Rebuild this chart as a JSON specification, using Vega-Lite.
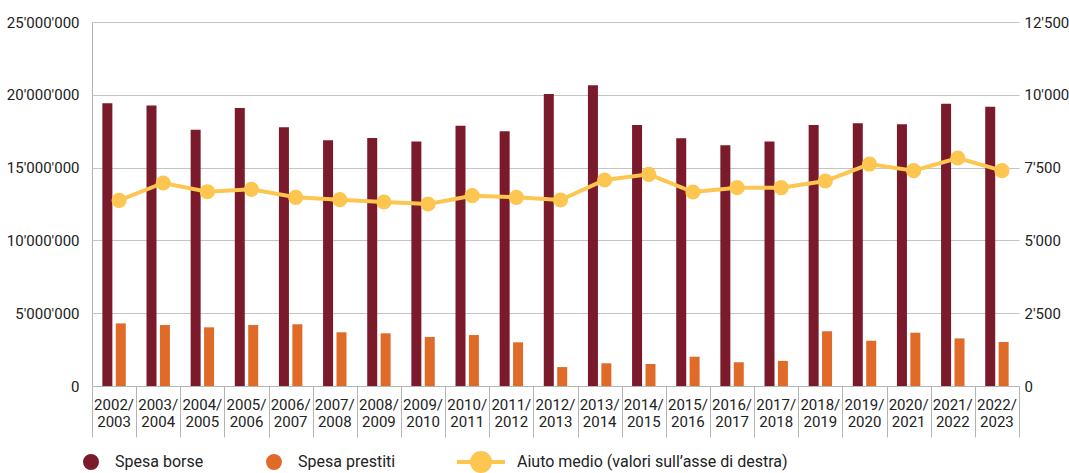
{
  "$schema": "https://vega.github.io/schema/vega-lite/v6.json",
  "width": 927,
  "height": 364,
  "autosize": {"type": "none"},
  "padding": {"left": 92, "top": 22, "right": 50, "bottom": 87},
  "background": "#ffffff",
  "config": {
    "locale": {"number": {"decimal": ".", "thousands": "'", "grouping": [3], "currency": ["", ""]}},
    "font": "Roboto",
    "view": {"stroke": null},
    "axis": {"labelFont": "Roboto", "labelFontSize": 15, "labelColor": "#222222", "titleColor": "#222222"},
    "legend": {"labelFont": "Roboto", "labelFontSize": 16, "labelColor": "#222222"}
  },
  "datasets": {
    "spesa": [
      {"anno": "2002/2003", "serie": "Spesa borse", "valore": 19420000},
      {"anno": "2002/2003", "serie": "Spesa prestiti", "valore": 4300000},
      {"anno": "2003/2004", "serie": "Spesa borse", "valore": 19270000},
      {"anno": "2003/2004", "serie": "Spesa prestiti", "valore": 4190000},
      {"anno": "2004/2005", "serie": "Spesa borse", "valore": 17600000},
      {"anno": "2004/2005", "serie": "Spesa prestiti", "valore": 4030000},
      {"anno": "2005/2006", "serie": "Spesa borse", "valore": 19090000},
      {"anno": "2005/2006", "serie": "Spesa prestiti", "valore": 4190000},
      {"anno": "2006/2007", "serie": "Spesa borse", "valore": 17770000},
      {"anno": "2006/2007", "serie": "Spesa prestiti", "valore": 4240000},
      {"anno": "2007/2008", "serie": "Spesa borse", "valore": 16870000},
      {"anno": "2007/2008", "serie": "Spesa prestiti", "valore": 3690000},
      {"anno": "2008/2009", "serie": "Spesa borse", "valore": 17030000},
      {"anno": "2008/2009", "serie": "Spesa prestiti", "valore": 3620000},
      {"anno": "2009/2010", "serie": "Spesa borse", "valore": 16800000},
      {"anno": "2009/2010", "serie": "Spesa prestiti", "valore": 3370000},
      {"anno": "2010/2011", "serie": "Spesa borse", "valore": 17880000},
      {"anno": "2010/2011", "serie": "Spesa prestiti", "valore": 3500000},
      {"anno": "2011/2012", "serie": "Spesa borse", "valore": 17490000},
      {"anno": "2011/2012", "serie": "Spesa prestiti", "valore": 3000000},
      {"anno": "2012/2013", "serie": "Spesa borse", "valore": 20050000},
      {"anno": "2012/2013", "serie": "Spesa prestiti", "valore": 1300000},
      {"anno": "2013/2014", "serie": "Spesa borse", "valore": 20650000},
      {"anno": "2013/2014", "serie": "Spesa prestiti", "valore": 1560000},
      {"anno": "2014/2015", "serie": "Spesa borse", "valore": 17930000},
      {"anno": "2014/2015", "serie": "Spesa prestiti", "valore": 1510000},
      {"anno": "2015/2016", "serie": "Spesa borse", "valore": 17010000},
      {"anno": "2015/2016", "serie": "Spesa prestiti", "valore": 2010000},
      {"anno": "2016/2017", "serie": "Spesa borse", "valore": 16530000},
      {"anno": "2016/2017", "serie": "Spesa prestiti", "valore": 1630000},
      {"anno": "2017/2018", "serie": "Spesa borse", "valore": 16800000},
      {"anno": "2017/2018", "serie": "Spesa prestiti", "valore": 1720000},
      {"anno": "2018/2019", "serie": "Spesa borse", "valore": 17930000},
      {"anno": "2018/2019", "serie": "Spesa prestiti", "valore": 3760000},
      {"anno": "2019/2020", "serie": "Spesa borse", "valore": 18040000},
      {"anno": "2019/2020", "serie": "Spesa prestiti", "valore": 3110000},
      {"anno": "2020/2021", "serie": "Spesa borse", "valore": 17970000},
      {"anno": "2020/2021", "serie": "Spesa prestiti", "valore": 3660000},
      {"anno": "2021/2022", "serie": "Spesa borse", "valore": 19390000},
      {"anno": "2021/2022", "serie": "Spesa prestiti", "valore": 3270000},
      {"anno": "2022/2023", "serie": "Spesa borse", "valore": 19180000},
      {"anno": "2022/2023", "serie": "Spesa prestiti", "valore": 3020000}
    ],
    "aiuto": [
      {"anno": "2002/2003", "aiuto": 6377},
      {"anno": "2003/2004", "aiuto": 6971},
      {"anno": "2004/2005", "aiuto": 6672},
      {"anno": "2005/2006", "aiuto": 6754},
      {"anno": "2006/2007", "aiuto": 6480},
      {"anno": "2007/2008", "aiuto": 6398},
      {"anno": "2008/2009", "aiuto": 6319},
      {"anno": "2009/2010", "aiuto": 6250},
      {"anno": "2010/2011", "aiuto": 6535},
      {"anno": "2011/2012", "aiuto": 6480},
      {"anno": "2012/2013", "aiuto": 6387},
      {"anno": "2013/2014", "aiuto": 7074},
      {"anno": "2014/2015", "aiuto": 7270},
      {"anno": "2015/2016", "aiuto": 6662},
      {"anno": "2016/2017", "aiuto": 6810},
      {"anno": "2017/2018", "aiuto": 6810},
      {"anno": "2018/2019", "aiuto": 7040},
      {"anno": "2019/2020", "aiuto": 7623},
      {"anno": "2020/2021", "aiuto": 7394},
      {"anno": "2021/2022", "aiuto": 7830},
      {"anno": "2022/2023", "aiuto": 7394}
    ]
  },
  "layer": [
    {
      "data": {"name": "spesa"},
      "mark": {"type": "bar", "width": 10},
      "encoding": {
        "x": {
          "field": "anno",
          "type": "nominal",
          "title": null,
          "scale": {"paddingInner": 0, "paddingOuter": 0},
          "axis": {
            "orient": "bottom",
            "labels": false,
            "tickBand": "extent",
            "tickSize": 51,
            "tickColor": "#b4b4b4",
            "tickWidth": 1,
            "domainColor": "#b4b4b4",
            "domainWidth": 1,
            "grid": false
          }
        },
        "xOffset": {"field": "serie", "type": "nominal", "scale": {"domain": ["Spesa borse", "Spesa prestiti"], "paddingInner": 0.254, "paddingOuter": 0.772}},
        "y": {
          "field": "valore",
          "type": "quantitative",
          "title": null,
          "scale": {"domain": [0, 25000000]},
          "axis": {
            "orient": "left",
            "values": [0, 5000000, 10000000, 15000000, 20000000, 25000000],
            "format": ",d",
            "ticks": false,
            "labelPadding": 13,
            "domain": true,
            "domainColor": "#b4b4b4",
            "grid": true,
            "gridColor": "#c4c4c4",
            "gridWidth": 1
          }
        },
        "fill": {
          "field": "serie",
          "type": "nominal",
          "scale": {"domain": ["Spesa borse", "Spesa prestiti"], "range": ["#7a1a2a", "#e06a28"]},
          "legend": {
            "title": null,
            "orient": "none",
            "legendX": -9,
            "legendY": 432,
            "direction": "horizontal",
            "symbolType": "circle",
            "symbolSize": 254,
            "symbolStrokeWidth": 0,
            "labelOffset": 16,
            "columnPadding": 62,
            "labelLimit": 400
          }
        }
      }
    },
    {
      "data": {"name": "aiuto"},
      "mark": {"type": "line", "strokeWidth": 4, "xOffset": 5},
      "encoding": {
        "x": {
          "field": "anno",
          "type": "nominal",
          "title": null,
          "axis": {
            "orient": "bottom",
            "labelAngle": 0,
            "labelOverlap": false,
            "labelExpr": "slice(datum.value, 0, 5)",
            "labelBaseline": "top",
            "labelPadding": 11,
            "ticks": false,
            "domain": false,
            "grid": false
          }
        },
        "y": {
          "field": "aiuto",
          "type": "quantitative",
          "title": null,
          "scale": {"domain": [0, 12500]},
          "axis": {
            "orient": "right",
            "values": [0, 2500, 5000, 7500, 10000, 12500],
            "format": ",d",
            "ticks": false,
            "domain": false,
            "grid": false,
            "labelPadding": 5
          }
        },
        "stroke": {
          "datum": "Aiuto medio (valori sull’asse di destra)",
          "type": "nominal",
          "scale": {"range": ["#fdc650"]},
          "legend": {
            "title": null,
            "orient": "none",
            "legendX": 378,
            "legendY": 429,
            "symbolType": "M-2.67,0H2.67M1,0A1,1 0 1,1 -1,0A1,1 0 1,1 1,0Z",
            "symbolSize": 324,
            "symbolFillColor": "#fdc650",
            "symbolStrokeColor": "#fdc650",
            "symbolStrokeWidth": 4,
            "labelOffset": 25,
            "labelLimit": 500
          }
        }
      }
    },
    {
      "data": {"name": "aiuto"},
      "mark": {"type": "point", "filled": true, "size": 230, "opacity": 1, "color": "#fdc650", "xOffset": 5},
      "encoding": {
        "x": {
          "field": "anno",
          "type": "nominal",
          "title": null,
          "axis": {
            "orient": "bottom",
            "labelAngle": 0,
            "labelOverlap": false,
            "labelExpr": "slice(datum.value, 5)",
            "labelBaseline": "top",
            "labelPadding": 28,
            "ticks": false,
            "domain": false,
            "grid": false
          }
        },
        "y": {"field": "aiuto", "type": "quantitative", "scale": {"domain": [0, 12500]}, "axis": null}
      }
    }
  ],
  "resolve": {"scale": {"y": "independent"}, "axis": {"x": "independent"}}
}
